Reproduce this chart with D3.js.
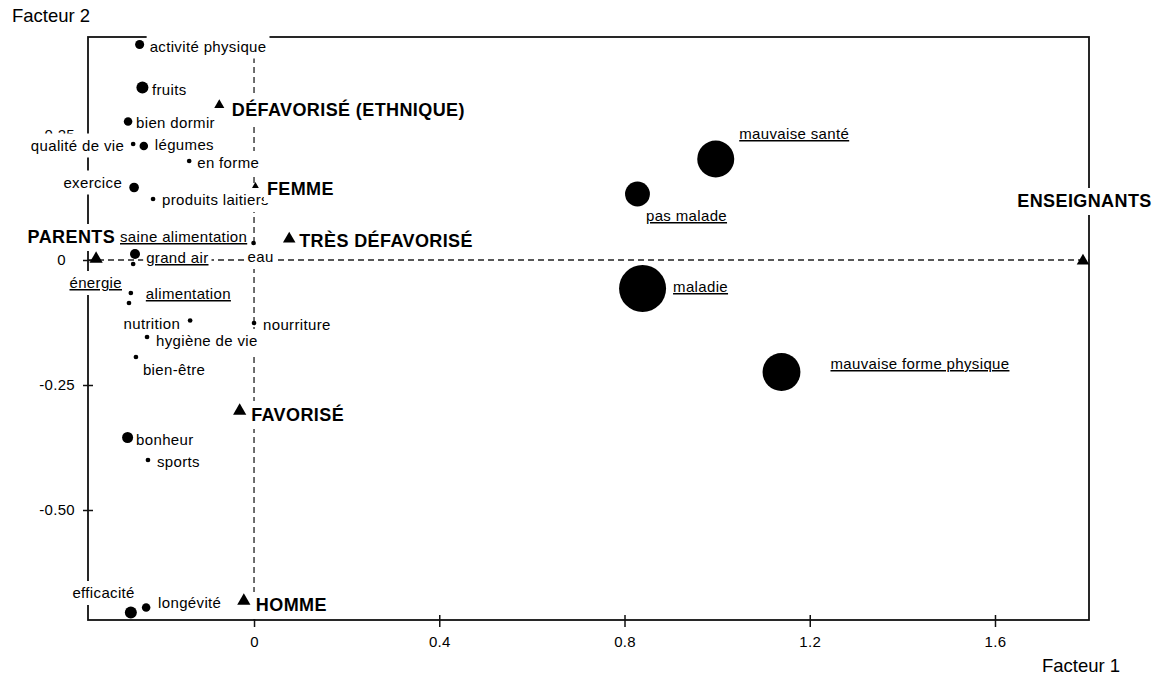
<!DOCTYPE html>
<html lang="fr">
<head>
	<meta charset="UTF-8">
	<title>Facteur 1 x Facteur 2</title>
	<style>
		* {padding:0; margin:0;}
		body {background:#fff;}
		#chart {display:block;}
		#chart text {font-family:"Liberation Sans", Arial, sans-serif; fill:#000;}
		.frame {fill:none; stroke:#111; stroke-width:1.8px;}
		.ref {stroke:#222; stroke-width:1.3px; stroke-dasharray:6 4;}
		.lab {font-size:15px; letter-spacing:0.35px;}
		.lab.u {text-decoration:underline;}
		.mod {font-size:18px; font-weight:bold; letter-spacing:0.4px;}
		.axTitle {font-size:18.5px;}
	</style>
</head>
<body>
<svg id="chart" width="1154" height="676"></svg>

<script src="https://cdn.jsdelivr.net/npm/d3@7"></script>
<script>
// mots (cercles noirs, taille = fréquence)
var words = ["activité physique", "fruits", "bien dormir", "qualité de vie", "légumes", "en forme",
	"exercice", "produits laitiers", "eau", "saine alimentation", "grand air", "alimentation", "énergie",
	"nutrition", "nourriture", "hygiène de vie", "bien-être", "bonheur", "sports", "efficacité",
	"longévité", "mauvaise santé", "pas malade", "maladie", "mauvaise forme physique"];
var wordX = [-0.247, -0.241, -0.272, -0.261, -0.238, -0.140, -0.259, -0.218, -0.001, -0.257, -0.261, -0.266,
	-0.270, -0.138, 0.000, -0.231, -0.255, -0.273, -0.229, -0.266, -0.233, 0.997, 0.828, 0.839, 1.139];
var wordY = [0.431, 0.345, 0.277, 0.232, 0.228, 0.198, 0.145, 0.122, 0.034, 0.012, -0.008, -0.066,
	-0.086, -0.121, -0.126, -0.154, -0.194, -0.355, -0.400, -0.705, -0.695, 0.202, 0.132, -0.057, -0.224];
var wordFreq = [3.7, 6.5, 3.3, 1, 3.3, 1, 4.2, 1, 1, 4.5, 1, 1, 1, 1, 1, 1, 1, 5.5, 1, 6.5, 3.3, 62, 28, 100, 65];
var underlined = ["saine alimentation", "grand air", "alimentation", "énergie",
	"mauvaise santé", "pas malade", "maladie", "mauvaise forme physique"];

// modalités (triangles)
var mods = ["DÉFAVORISÉ (ETHNIQUE)", "FEMME", "TRÈS DÉFAVORISÉ", "PARENTS", "FAVORISÉ", "HOMME", "ENSEIGNANTS"];
var modX = [-0.075, 0.003, 0.076, -0.341, -0.031, -0.022, 1.790];
var modY = [0.310, 0.148, 0.042, 0.002, -0.302, -0.682, -0.002];
var modWeight = [55, 25, 85, 95, 95, 95, 85];

var xTicks = [0, 0.4, 0.8, 1.2, 1.6];
var xTickLabels = ["0", "0.4", "0.8", "1.2", "1.6"];
var yTicks = [0.25, 0, -0.25, -0.5];
var yTickLabels = ["0.25", "0", "-0.25", "-0.50"];

// décalage des étiquettes : [dx, dy, ancrage]
var labelPlace = {
	"activité physique": [10, 7, "start"], "fruits": [9.5, 7.5, "start"], "bien dormir": [8, 6.5, "start"],
	"qualité de vie": [-9, 6.5, "end"], "légumes": [11, 4, "start"], "en forme": [8, 7, "start"],
	"exercice": [-12, 0, "end"], "produits laitiers": [9, 6, "start"], "eau": [-6, 19, "start"],
	"saine alimentation": [-15, -12, "start"], "grand air": [13, -1, "start"], "alimentation": [15, 6, "start"],
	"énergie": [-7, -15, "end"], "nutrition": [-10, 8, "end"], "nourriture": [9, 7, "start"],
	"hygiène de vie": [9, 9, "start"], "bien-être": [7, 18, "start"], "bonheur": [8.5, 7.5, "start"],
	"sports": [9, 7, "start"], "efficacité": [4, -14.5, "end"], "longévité": [12, 0.5, "start"],
	"mauvaise santé": [23.5, -20, "start"], "pas malade": [8.5, 27, "start"], "maladie": [30.5, 3.5, "start"],
	"mauvaise forme physique": [49, -3, "start"],
	"DÉFAVORISÉ (ETHNIQUE)": [12.5, 11, "start"], "FEMME": [11.5, 9, "start"], "TRÈS DÉFAVORISÉ": [10, 8, "start"],
	"PARENTS": [19, -16, "end"], "FAVORISÉ": [11.5, 10, "start"], "HOMME": [12, 10, "start"],
	"ENSEIGNANTS": [1.5, -54, "middle"]
};

var svg = d3.select("#chart");
var plotL = 88, plotR = 1089, plotT = 37, plotB = 620;

var x = d3.scaleLinear().domain([-0.3585, 1.803]).range([plotL, plotR]);
var y = d3.scaleLinear().domain([-0.72, 0.446]).range([plotB, plotT]);
var rScale = d3.scaleSqrt().domain([0, 100]).range([0, 23.5]);
var triArea = d3.scaleLinear().domain([0, 100]).range([0, 80]);

var wordData = words.map(function(w, i){ return {name:w, x:wordX[i], y:wordY[i], f:wordFreq[i], kind:"w"}; });
var modData = mods.map(function(m, i){ return {name:m, x:modX[i], y:modY[i], f:modWeight[i], kind:"m"}; });

// axes de référence en pointillés
svg.append("line").attr("class", "ref")
	.attr("x1", x(0)).attr("x2", x(0)).attr("y1", plotT).attr("y2", plotB);
svg.append("line").attr("class", "ref")
	.attr("x1", plotL).attr("x2", plotR).attr("y1", y(0)).attr("y2", y(0));

// cadre
svg.append("rect").attr("class", "frame")
	.attr("x", plotL).attr("y", plotT).attr("width", plotR - plotL).attr("height", plotB - plotT);

// axe X
var gx = svg.append("g").attr("transform", "translate(0," + plotB + ")")
	.call(d3.axisBottom(x).tickValues(xTicks).tickSize(7)
		.tickFormat(function(d, i){ return xTickLabels[i]; }));
gx.select(".domain").remove();
gx.selectAll(".tick line").attr("y1", -5).attr("stroke", "#111").attr("stroke-width", 1.5);
gx.selectAll(".tick text").attr("y", 16)
	.attr("font-size", 15).attr("letter-spacing", 0.3);

// axe Y
var gy = svg.append("g").attr("transform", "translate(" + plotL + ",0)")
	.call(d3.axisLeft(y).tickValues(yTicks).tickSize(5)
		.tickFormat(function(d, i){ return yTickLabels[i]; }));
gy.select(".domain").remove();
gy.selectAll(".tick line").attr("x1", 5).attr("stroke", "#111").attr("stroke-width", 1.5);
gy.selectAll(".tick text").attr("x", function(d){ return d === 0 ? -22 : -13; })
	.attr("font-size", 15).attr("letter-spacing", 0.3);

// titres d'axes
svg.append("text").attr("class", "axTitle").attr("x", 12).attr("y", 22).text("Facteur 2");
svg.append("text").attr("class", "axTitle").attr("x", 1042).attr("y", 672).text("Facteur 1");

// étiquettes avec fond blanc
var labels = svg.append("g").selectAll("g")
	.data(wordData.concat(modData))
	.enter()
	.append("g");
labels.append("rect").attr("fill", "#fff");
labels.append("text")
	.attr("class", function(d){
		if (d.kind === "m") return "mod";
		return underlined.indexOf(d.name) >= 0 ? "lab u" : "lab";
	})
	.attr("x", function(d){ return x(d.x) + labelPlace[d.name][0]; })
	.attr("y", function(d){ return y(d.y) + labelPlace[d.name][1]; })
	.attr("text-anchor", function(d){ return labelPlace[d.name][2]; })
	.text(function(d){ return d.name; });
labels.each(function(){
	var g = d3.select(this);
	var b = g.select("text").node().getBBox();
	g.select("rect")
		.attr("x", b.x - 3).attr("y", b.y - 3)
		.attr("width", b.width + 6).attr("height", b.height + 7);
});

// cercles (mots)
svg.append("g").selectAll("circle")
	.data(wordData)
	.enter()
	.append("circle")
	.attr("cx", function(d){ return x(d.x); })
	.attr("cy", function(d){ return y(d.y); })
	.attr("r", function(d){ return rScale(d.f); })
	.attr("fill", "#000");

// triangles (modalités)
svg.append("g").selectAll("path")
	.data(modData)
	.enter()
	.append("path")
	.attr("transform", function(d){ return "translate(" + x(d.x) + "," + y(d.y) + ")"; })
	.attr("d", function(d){ return d3.symbol().type(d3.symbolTriangle).size(triArea(d.f))(); })
	.attr("fill", "#000");
</script>
</body>
</html>
